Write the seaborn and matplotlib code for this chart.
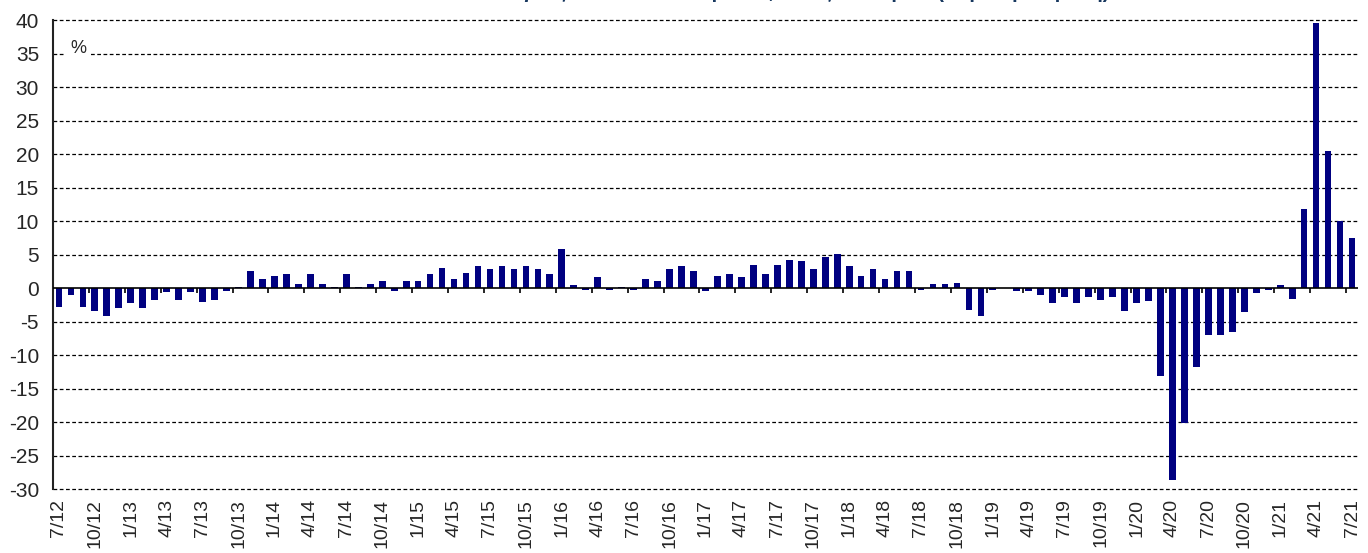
import numpy as np
import pandas as pd
import seaborn as sns
import matplotlib.pyplot as plt

# monthly data, 7/2012 - 7/2021, annual % change
months = [f"{p.month}/{p.year % 100:02d}" for p in pd.period_range("2012-07", "2021-07", freq="M")]
yoy_change = [
    -2.8, -1.1, -2.8, -3.5, -4.2, -3.0, -2.3, -3.0, -1.8, -0.6, -1.8, -0.6,
    -2.1, -1.8, -0.4, 0.15, 2.5, 1.3, 1.8, 2.1, 0.6, 2.1, 0.6, 0.1,
    2.1, 0.1, 0.6, 1.1, -0.5, 1.1, 1.1, 2.1, 3.0, 1.3, 2.3, 3.3,
    2.8, 3.3, 2.8, 3.3, 2.8, 2.1, 5.8, 0.4, -0.3, 1.6, -0.3, 0.1,
    -0.3, 1.3, 1.1, 2.8, 3.3, 2.5, -0.5, 1.8, 2.1, 1.6, 3.5, 2.1,
    3.5, 4.2, 4.0, 2.8, 4.7, 5.1, 3.3, 1.8, 2.8, 1.3, 2.5, 2.5,
    -0.3, 0.6, 0.6, 0.8, -3.3, -4.2, -0.3, 0.0, -0.5, -0.5, -1.0, -2.3,
    -1.3, -2.3, -1.3, -1.8, -1.3, -3.5, -2.3, -2.0, -13.2, -28.7, -20.1, -11.8,
    -7.0, -7.0, -6.5, -3.6, -0.7, -0.3, 0.4, -1.7, 11.8, 39.6, 20.5, 10.0,
    7.5,
]
tick_labels = months[::3]
y_ticks = list(range(-30, 45, 5))
title = "Όγκος λιανικών πωλήσεων, εκτός καυσίμων (ετήσια μεταβολή)"

df = pd.DataFrame({"month": months, "change": yoy_change})

sns.set_style("white")
plt.rcParams["font.family"] = ["Liberation Sans", "DejaVu Sans"]

fig = plt.figure(figsize=(13.68, 5.53), dpi=100)
ax = fig.add_axes([0.0387, 0.1157, 0.954, 0.848])

# dashed grid behind bars
for y in y_ticks:
    if y != 0:
        ax.axhline(y, color="black", lw=0.9, ls=(0, (3, 2)), zorder=0, clip_on=False)

sns.barplot(data=df, x="month", y="change", color="#000080", width=0.56,
            saturation=1, linewidth=0, ax=ax, zorder=2)

ax.axhline(0, color="black", lw=1.2, zorder=3)
ticks_pos = np.arange(3, len(months), 3) - 0.5
ax.vlines(ticks_pos, -0.8, 0, color="black", lw=1.2, zorder=3)

ax.set_xlim(-0.5, len(months) - 0.5)
ax.set_ylim(-30, 40)
ax.set_yticks(y_ticks)
ax.set_yticklabels([str(v) for v in y_ticks], fontsize=15)
ax.set_xticks(range(0, len(months), 3))
ax.set_xticklabels(tick_labels, rotation=90, fontsize=14)
ax.tick_params(axis="x", length=0, pad=7)
ax.tick_params(axis="y", length=6, width=1.2, color="black", direction="out", pad=4)
ax.set_xlabel("")
ax.set_ylabel("")

for s in ["top", "right", "bottom"]:
    ax.spines[s].set_visible(False)
ax.spines["left"].set_color("#222222")
ax.spines["left"].set_linewidth(1.5)

ax.text(1.6, 35.8, "%", fontsize=13, ha="center", va="center", zorder=4,
        bbox=dict(facecolor="white", edgecolor="none", pad=3))

# title is cut by the top edge, only its lower part shows
fig.text(0.59, 1 + 2.5 / 553, title, ha="center", va="baseline",
         fontsize=14.5, fontweight="bold", color="#17375E")

fig.savefig("out.png", dpi=100)
